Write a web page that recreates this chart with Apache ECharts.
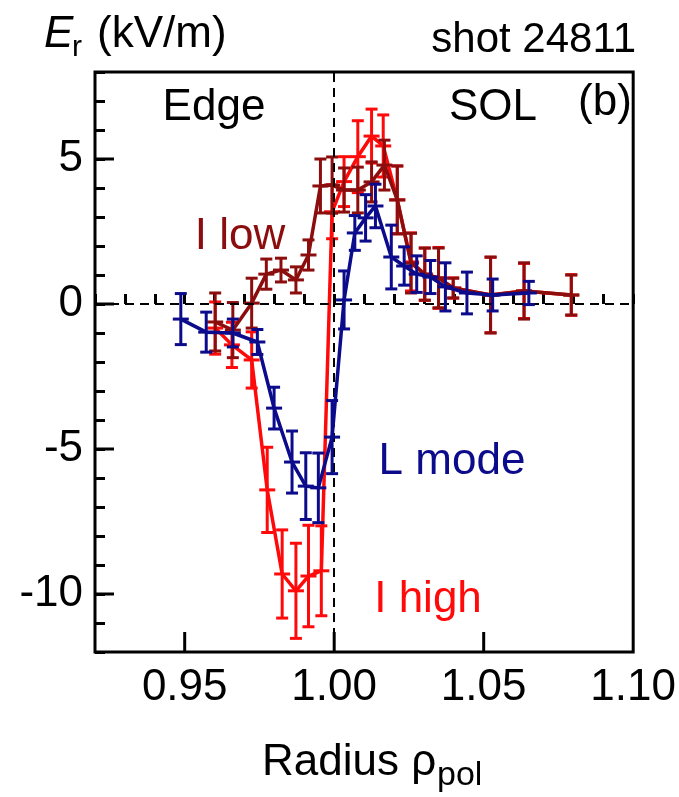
<!DOCTYPE html>
<html><head><meta charset="utf-8">
<script src="https://cdn.jsdelivr.net/npm/echarts@6/dist/echarts.min.js"></script>
<style>html,body{margin:0;padding:0;background:#fff}#c{width:679px;height:797px}</style>
</head><body><div id="c"></div>
<script>
// L mode (blue)
const lmodeX = [0.9487,0.9572,0.9661,0.9743,0.9799,0.9859,0.9905,0.9947,0.9993,1.0033,1.0069,1.0105,1.0138,1.0191,1.0234,1.0276,1.0322,1.0372,1.0444,1.0530,1.0651];
const lmodeY = [-0.52,-0.97,-1.0,-1.31,-3.59,-5.45,-6.28,-6.34,-4.59,0.14,2.45,2.97,3.38,1.62,1.31,1.03,0.93,0.59,0.38,0.31,0.38];
const lmodeErr = [0.88,0.69,0.48,0.43,0.72,1.07,1.15,1.2,1.26,1.0,0.6,0.8,0.75,1.1,0.66,0.63,0.57,0.83,0.72,0.55,0.4];
// I high (red)
const highX = [0.9602,0.9658,0.9724,0.9776,0.9826,0.9872,0.9914,0.9957,0.9993,1.0033,1.0079,1.0125,1.0164,1.0211,1.0257,1.0303,1.0349,1.0398,1.0523,1.0635,1.0793];
const highY = [-0.83,-1.41,-1.93,-6.41,-9.31,-9.89,-9.38,-9.2,3.18,4.22,5.08,5.79,5.45,3.59,1.45,1.03,0.9,0.55,0.31,0.45,0.31];
const highErr = [0.9,0.78,0.97,1.47,1.52,1.64,1.75,1.55,0.93,0.86,1.24,0.93,1.07,1.17,1.0,0.9,1.05,0.35,1.3,0.95,0.7];
// I low (dark red)
const lowX = [0.9602,0.9661,0.9724,0.9773,0.9822,0.9872,0.9914,0.9954,0.9993,1.0033,1.0079,1.0125,1.0168,1.0211,1.0257,1.0303,1.0349,1.0398,1.0523,1.0635,1.0793];
const lowY = [-0.62,-0.90,0.03,1.03,1.17,0.83,1.69,4.07,4.10,3.93,3.93,4.21,4.79,3.59,1.41,1.03,0.90,0.55,0.31,0.45,0.31];
const lowErr = [1.0,0.95,0.86,0.52,0.41,0.45,0.52,0.93,0.97,0.76,0.79,0.69,0.86,1.17,1.03,0.9,1.03,0.34,1.31,0.97,0.69];
// axis ticks
const xMajorTicks = [0.95, 1.00, 1.05];
const yMajorTicks = [-10, -5, 0, 5];
const xMin = 0.92, xMax = 1.10, yMin = -12, yMax = 8;

const FONT = '"Liberation Sans", Arial, Helvetica, sans-serif';
const C_BLUE = '#0b0b8c', C_RED = '#ff0a0a', C_DRED = '#8c0d0d';

function pairs(xs, ys){ return xs.map((x,i)=>[x, ys[i]]); }
function triples(xs, ys, es){ return xs.map((x,i)=>[x, ys[i], es[i]]); }

function errRender(color){
  return function(params, api){
    const x = api.value(0), y = api.value(1), e = api.value(2);
    const p = api.coord([x, y]), lo = api.coord([x, y - e]), hi = api.coord([x, y + e]);
    const hw = 6, cw = 8;
    const style = {stroke: color, lineWidth: 3};
    return {type: 'group', children: [
      {type: 'line', shape: {x1: p[0], y1: hi[1], x2: p[0], y2: lo[1]}, style},
      {type: 'line', shape: {x1: p[0]-hw, y1: hi[1], x2: p[0]+hw, y2: hi[1]}, style},
      {type: 'line', shape: {x1: p[0]-hw, y1: lo[1], x2: p[0]+hw, y2: lo[1]}, style},
      {type: 'line', shape: {x1: p[0]-cw, y1: p[1], x2: p[0]+cw, y2: p[1]}, style}
    ]};
  };
}

const chart = echarts.init(document.getElementById('c'), null, {renderer: 'canvas'});
const option = {
  backgroundColor: '#fff',
  animation: false,
  grid: {left: 95, right: 37, top: 72, bottom: 145, show: true, borderColor: '#000', borderWidth: 3, backgroundColor: 'transparent'},
  xAxis: {
    type: 'value', min: xMin, max: xMax, interval: 0.01,
    axisLine: {show: false},
    axisTick: {show: true, inside: true, length: 10, lineStyle: {color: '#000', width: 3}},
    splitLine: {show: false},
    axisLabel: {
      show: true, margin: 14, color: '#000', fontFamily: FONT, fontSize: 44,
      showMinLabel: true, showMaxLabel: true,
      formatter: v => (Math.abs(v*20 - Math.round(v*20)) < 1e-6) ? v.toFixed(2) : ''
    }
  },
  yAxis: {
    type: 'value', min: yMin, max: yMax, interval: 1,
    axisLine: {show: false},
    axisTick: {show: true, inside: true, length: 10, lineStyle: {color: '#000', width: 3}},
    splitLine: {show: false},
    axisLabel: {
      show: true, margin: 12, color: '#000', fontFamily: FONT, fontSize: 44,
      formatter: v => (v % 5 === 0) ? String(v) : ''
    }
  },
  series: [
    {type: 'line', data: [], silent: true, z: 1,
     markLine: {silent: true, symbol: 'none', label: {show: false},
       lineStyle: {color: '#000', type: [9, 6], width: 2},
       data: [{yAxis: 0}, {xAxis: 1.0}]}},
    {type: 'custom', z: 2, silent: true, clip: false, data: xMajorTicks.map(v=>[v]),
     renderItem: (params, api) => { const p = api.coord([api.value(0), yMin]);
       return {type: 'line', shape: {x1: p[0], y1: p[1], x2: p[0], y2: p[1]-20}, style: {stroke: '#000', lineWidth: 3}}; }},
    {type: 'custom', z: 2, silent: true, clip: false, data: yMajorTicks.map(v=>[v]),
     renderItem: (params, api) => { const p = api.coord([xMin, api.value(0)]);
       return {type: 'line', shape: {x1: p[0], y1: p[1], x2: p[0]+19, y2: p[1]}, style: {stroke: '#000', lineWidth: 3}}; }},
    {name: 'I high', type: 'line', z: 3, data: pairs(highX, highY), showSymbol: false, lineStyle: {color: C_RED, width: 3.5}},
    {type: 'custom', z: 3, data: triples(highX, highY, highErr), renderItem: errRender(C_RED)},
    {name: 'I low', type: 'line', z: 4, data: pairs(lowX, lowY), showSymbol: false, lineStyle: {color: C_DRED, width: 3.5}},
    {type: 'custom', z: 4, data: triples(lowX, lowY, lowErr), renderItem: errRender(C_DRED)},
    {name: 'L mode', type: 'line', z: 5, data: pairs(lmodeX, lmodeY), showSymbol: false, lineStyle: {color: C_BLUE, width: 3.5}},
    {type: 'custom', z: 5, data: triples(lmodeX, lmodeY, lmodeErr), renderItem: errRender(C_BLUE)}
  ],
  graphic: [
    {type: 'text', x: 44, y: 35, style: {text: 'E', font: 'italic 44px ' + FONT, fill: '#000', verticalAlign: 'middle'}},
    {type: 'text', x: 72, y: 48, style: {text: 'r', font: '30px ' + FONT, fill: '#000', verticalAlign: 'middle'}},
    {type: 'text', x: 97, y: 35, style: {text: '(kV/m)', font: '44px ' + FONT, fill: '#000', verticalAlign: 'middle'}},
    {type: 'text', x: 636, y: 40, style: {text: 'shot 24811', font: '42px ' + FONT, fill: '#000', align: 'right', verticalAlign: 'middle'}},
    {type: 'text', x: 214, y: 108, style: {text: 'Edge', font: '44px ' + FONT, fill: '#000', align: 'center', verticalAlign: 'middle'}},
    {type: 'text', x: 493, y: 108, style: {text: 'SOL', font: '44px ' + FONT, fill: '#000', align: 'center', verticalAlign: 'middle'}},
    {type: 'text', x: 605, y: 103, style: {text: '(b)', font: '44px ' + FONT, fill: '#000', align: 'center', verticalAlign: 'middle'}},
    {type: 'text', x: 240, y: 237, style: {text: 'I low', font: '44px ' + FONT, fill: C_DRED, align: 'center', verticalAlign: 'middle'}},
    {type: 'text', x: 452, y: 462, style: {text: 'L mode', font: '44px ' + FONT, fill: C_BLUE, align: 'center', verticalAlign: 'middle'}},
    {type: 'text', x: 428, y: 600, style: {text: 'I high', font: '44px ' + FONT, fill: C_RED, align: 'center', verticalAlign: 'middle'}},
    {type: 'text', x: 262, y: 763, style: {text: 'Radius ρ', font: '44px ' + FONT, fill: '#000', verticalAlign: 'middle'}},
    {type: 'text', x: 437, y: 776, style: {text: 'pol', font: '34px ' + FONT, fill: '#000', verticalAlign: 'middle'}}
  ]
};
chart.setOption(option);
</script></body></html>
